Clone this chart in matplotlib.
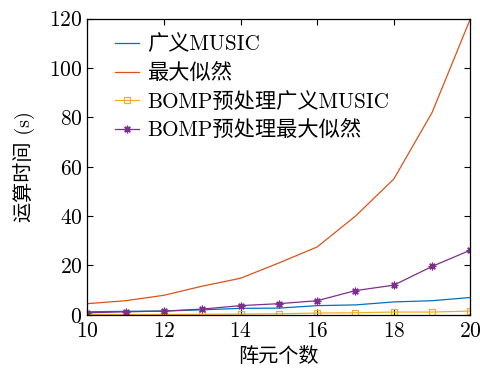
import numpy as np
import matplotlib
matplotlib.use('Agg')
import matplotlib.pyplot as plt

plt.rcParams['font.family'] = ['cmr10', 'Noto Sans CJK SC']
plt.rcParams['axes.formatter.use_mathtext'] = True
plt.rcParams['mathtext.fontset'] = 'cm'

# 阵元个数
n = [10, 11, 12, 13, 14, 15, 16, 17, 18, 19, 20]

# 运算时间 (s)
t_music = [1.2, 1.4, 1.5, 2.0, 2.6, 2.7, 3.7, 4.0, 5.2, 5.7, 7.0]
t_ml = [4.5, 5.7, 7.9, 11.6, 14.8, 21.0, 27.5, 40.0, 55.0, 82.0, 120.0]
t_bomp_music = [0.1, 0.1, 0.1, 0.2, 0.3, 0.4, 0.7, 0.8, 1.1, 1.1, 1.5]
t_bomp_ml = [0.8, 1.2, 1.5, 2.3, 3.7, 4.5, 5.7, 9.8, 12.0, 19.6, 26.2]

fig = plt.figure(figsize=(4.8, 3.82), dpi=100)
ax = fig.add_axes([0.182, 0.176, 0.798, 0.775])

ax.plot(n, t_music, color='#0072BD', lw=0.9, label='广义MUSIC')
ax.plot(n, t_ml, color='#D95319', lw=0.9, label='最大似然')
ax.plot(n, t_bomp_music, color='#EDB120', lw=0.9, marker='s', ms=5,
        mfc='none', mew=0.9, label='BOMP预处理广义MUSIC')
ax.plot(n, t_bomp_ml, color='#7E2F8E', lw=0.9, marker=(8, 2, 0), ms=5.5,
        mew=0.9, label='BOMP预处理最大似然')

ax.set_xlim(10, 20)
ax.set_ylim(0, 120)
ax.set_xticks([10, 12, 14, 16, 18, 20])
ax.set_yticks([0, 20, 40, 60, 80, 100, 120])
ax.tick_params(direction='in', top=True, right=True, labelsize=15.5, length=4)
ax.tick_params(axis='x', pad=5)
for s in ax.spines.values():
    s.set_linewidth(0.9)

ax.set_xlabel('阵元个数', fontsize=14.5, labelpad=4)
ax.set_ylabel('运算时间 (s)', fontsize=14.5, labelpad=10)

ax.legend(loc='upper left', bbox_to_anchor=(0.051, 0.975), frameon=False,
          fontsize=15.3, handlelength=1.1, borderaxespad=0, labelspacing=0.4,
          handletextpad=0.4, borderpad=0.4)

fig.savefig('out.png', dpi=100)
